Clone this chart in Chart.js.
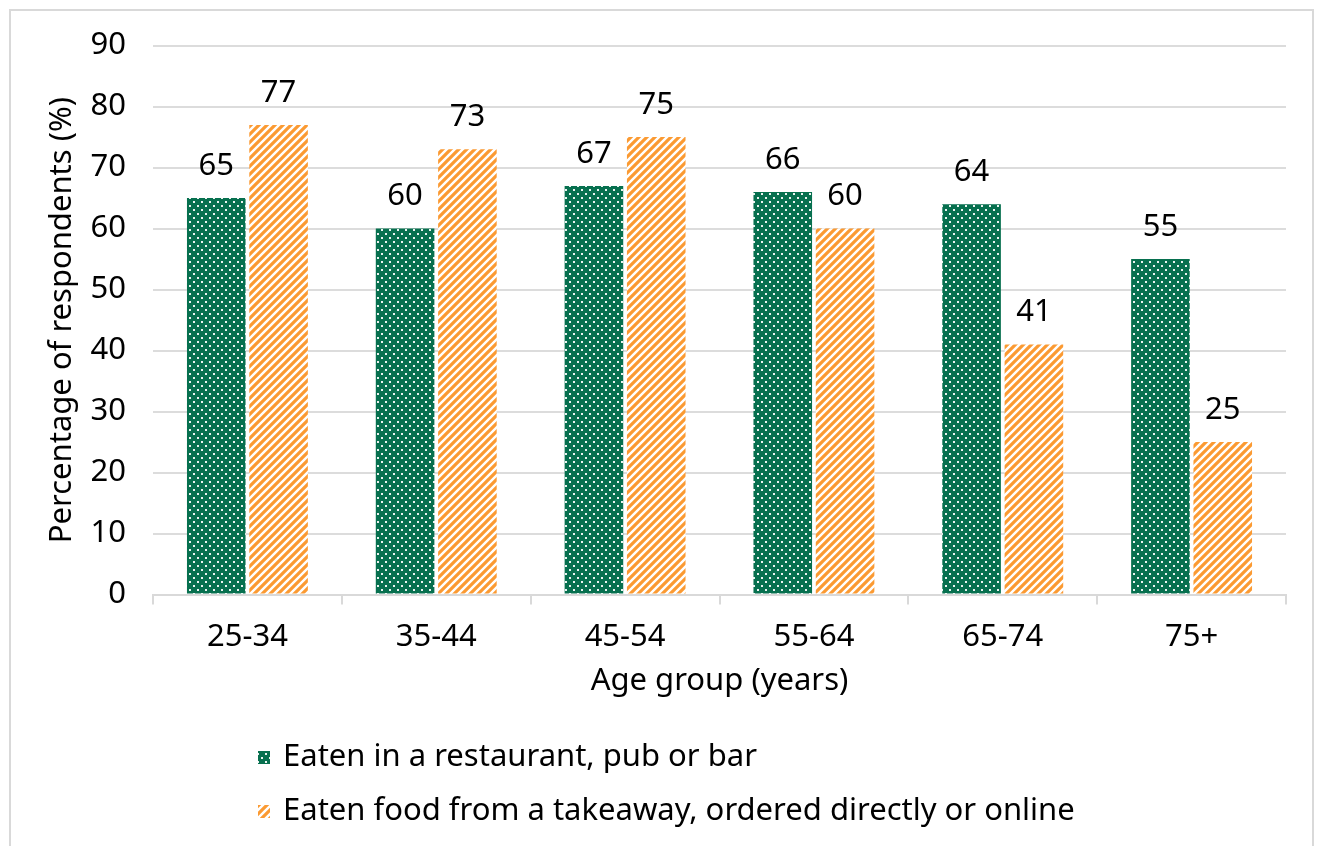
<!DOCTYPE html>
<html>
<head>
<meta charset="utf-8">
<script src="https://cdn.jsdelivr.net/npm/chart.js@4"></script>
<style>
  html, body { margin: 0; padding: 0; background: #fff; }
  canvas { display: block; }
</style>
</head>
<body>
<canvas id="ageChart" width="1317" height="846"></canvas>
<script>
var ageGroups = ['25-34', '35-44', '45-54', '55-64', '65-74', '75+'];
var restaurant = [65, 60, 67, 66, 64, 55];
var takeaway = [77, 73, 75, 60, 41, 25];
var seriesNames = ['Eaten in a restaurant, pub or bar', 'Eaten food from a takeaway, ordered directly or online'];
var yTicks = [0, 10, 20, 30, 40, 50, 60, 70, 80, 90];

var FONT = "'Noto Sans', sans-serif";
var SIZE = 31;
var green = '#07704f';
var orange = '#fb9a32';

// dotted green fill
function dotPattern() {
  var c = document.createElement('canvas');
  c.width = 8; c.height = 8;
  var g = c.getContext('2d');
  g.fillStyle = green;
  g.fillRect(0, 0, 8, 8);
  g.fillStyle = 'rgba(255,255,255,0.92)';
  g.fillRect(1, 1, 2, 2);
  g.fillRect(5, 5, 2, 2);
  return g.createPattern(c, 'repeat');
}

// upward diagonal orange stripes
function stripePattern() {
  var c = document.createElement('canvas');
  c.width = 8; c.height = 8;
  var g = c.getContext('2d');
  g.fillStyle = '#fff';
  g.fillRect(0, 0, 8, 8);
  g.strokeStyle = orange;
  g.lineWidth = 3.2;
  g.beginPath();
  g.moveTo(-2, 10); g.lineTo(10, -2);
  g.moveTo(-6, 6); g.lineTo(6, -6);
  g.moveTo(2, 14); g.lineTo(14, 2);
  g.stroke();
  return g.createPattern(c, 'repeat');
}

var dots = dotPattern();
var stripes = stripePattern();

// white page with thin grey frame
var framePlugin = {
  id: 'frame',
  beforeDraw: function(chart) {
    var ctx = chart.ctx;
    ctx.save();
    ctx.fillStyle = '#fff';
    ctx.fillRect(0, 0, chart.width, chart.height);
    ctx.strokeStyle = '#d9d9d9';
    ctx.lineWidth = 2;
    ctx.strokeRect(10, 10, 1303, 860);
    ctx.restore();
  }
};

// numbers above each bar
var valueLabels = {
  id: 'valueLabels',
  afterDatasetsDraw: function(chart) {
    var ctx = chart.ctx;
    ctx.save();
    ctx.font = SIZE + 'px ' + FONT;
    ctx.fillStyle = '#000';
    ctx.textAlign = 'center';
    ctx.textBaseline = 'middle';
    chart.data.datasets.forEach(function(ds, i) {
      chart.getDatasetMeta(i).data.forEach(function(bar, j) {
        ctx.fillText(ds.data[j], bar.x, bar.y - 32);
      });
    });
    ctx.restore();
  }
};

// stacked legend under the axis title
var sideLegend = {
  id: 'sideLegend',
  afterDraw: function(chart) {
    var ctx = chart.ctx;
    ctx.save();
    ctx.font = SIZE + 'px ' + FONT;
    ctx.textBaseline = 'middle';
    chart.data.datasets.forEach(function(ds, i) {
      var y = 757 + i * 54;
      ctx.fillStyle = ds.backgroundColor;
      ctx.fillRect(258, y - 6, 12, 13);
      ctx.fillStyle = '#000';
      ctx.fillText(ds.label, 283, y);
    });
    ctx.restore();
  }
};

var ctx = document.getElementById('ageChart').getContext('2d');
var chart = new Chart(ctx, {
  type: 'bar',
  data: {
    labels: ageGroups,
    datasets: [{
      label: seriesNames[0],
      data: restaurant,
      backgroundColor: dots
    }, {
      label: seriesNames[1],
      data: takeaway,
      backgroundColor: stripes
    }]
  },
  options: {
    responsive: false,
    animation: false,
    devicePixelRatio: 1,
    categoryPercentage: 0.66,
    barPercentage: 0.94,
    layout: { padding: { left: 40, right: 31, top: 44, bottom: 142 } },
    plugins: {
      legend: { display: false },
      tooltip: { enabled: false }
    },
    scales: {
      x: {
        grid: { display: true, drawOnChartArea: false, drawTicks: true, tickLength: 10, color: '#d9d9d9', lineWidth: 2, offset: true },
        border: { display: true, color: '#d9d9d9', width: 2 },
        ticks: { color: '#000', font: { family: FONT, size: SIZE }, padding: 14 },
        title: { display: true, text: 'Age group (years)', color: '#000', font: { family: FONT, size: SIZE }, padding: { top: -7 } }
      },
      y: {
        min: 0,
        max: 90,
        afterBuildTicks: function(scale) {
          scale.ticks = yTicks.map(function(v) { return { value: v }; });
        },
        afterFit: function(scale) { scale.width = 113; },
        grid: { color: '#dcdcdc', lineWidth: 2, drawTicks: false },
        border: { display: false },
        ticks: { color: '#000', font: { family: FONT, size: SIZE }, padding: 27 },
        title: { display: true, text: 'Percentage of respondents (%)', color: '#000', font: { family: FONT, size: SIZE }, padding: { top: 4, bottom: 4 } }
      }
    }
  },
  plugins: [framePlugin, valueLabels, sideLegend]
});
</script>
</body>
</html>
